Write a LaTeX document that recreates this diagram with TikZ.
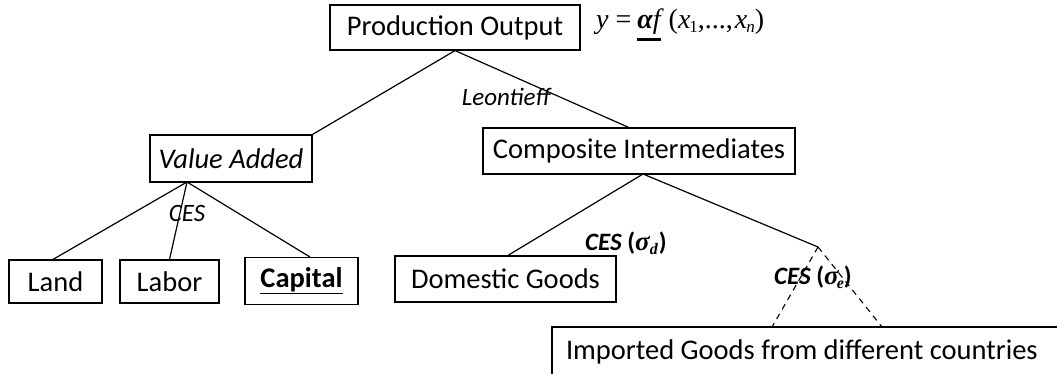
\documentclass[tikz,border=0pt]{standalone}
\usepackage{fontspec}
\setmainfont{Carlito}
\newfontfamily\tms{Liberation Serif}
\newcommand\thickul[1]{\mbox{\vtop{\hbox{#1}\kern3pt\hrule height 2.6pt}}}
\begin{document}
\begin{tikzpicture}[x=1pt,y=-1pt,
  box/.style={draw,line width=1.2pt,inner sep=0pt,font=\fontsize{28.5}{32}\selectfont},
  lbl/.style={inner sep=0pt,font=\fontsize{25}{29}\selectfont},
  link/.style={line width=1.2pt},
  dlink/.style={line width=1.1pt,dash pattern=on 6pt off 5pt}]
\clip (0,0) rectangle (1057,374);
\fill[white] (0,0) rectangle (1057,374);
% boxes
\node[box,minimum width=250pt,minimum height=45pt] (po) at (455,27.5) {Production Output};
\node[box,minimum width=162pt,minimum height=47pt] (va) at (231,158.5) {\itshape Value Added};
\node[box,minimum width=312pt,minimum height=46pt] (ci) at (639,151) {Composite Intermediates};
\node[box,minimum width=93pt,minimum height=43pt] (land) at (55.5,281.5) {Land};
\node[box,minimum width=99pt,minimum height=43pt] (labor) at (169.5,281.5) {Labor};
\node[box,minimum width=113pt,minimum height=47pt] (cap) at (301.5,281) {\underline{\bfseries Capital}};
\node[box,minimum width=221pt,minimum height=46pt] (dg) at (505.5,279) {Domestic Goods};
\node[box,minimum width=540pt,minimum height=50pt] (ig) at (822,352) {\makebox[512pt][l]{Imported Goods from different countries}};
% equation
\node[inner sep=0pt,anchor=base west,font=\fontsize{28}{32}\selectfont\tms] (eq) at (596,29)
  {\itshape y\kern7pt\upshape=\kern6pt\thickul{{\bfseries\itshape α}\itshape f}\kern8pt\upshape(\itshape x\kern-1pt\raisebox{-4pt}{\fontsize{17}{19}\selectfont\upshape 1}\upshape,...,\kern2pt\itshape x\kern-1pt\raisebox{-4pt}{\fontsize{17}{19}\selectfont n}\upshape)};
% junction coordinates
\coordinate (apx) at (po.south);
\coordinate (vab) at (187,182);
\coordinate (cib) at (643,174);
\coordinate (ej) at (818,247);
% connectors
\draw[link] (va.north east) -- (apx) -- (630,128);
\draw[link] (vab) -- (52,260);
\draw[link] (vab) -- (labor.north);
\draw[link] (vab) -- (310,257);
\draw[link] (cib) -- (507,256);
\draw[link] (cib) -- (ej);
\draw[dlink] (ej) -- (772,327);
\draw[dlink] (ej) -- (882,327);
% labels
\node[lbl,font=\fontsize{25}{29}\selectfont\itshape] (leo) at (506,97) {Leontieff};
\node[lbl,font=\fontsize{25}{29}\selectfont\itshape] (ces1) at (187,213) {CES};
\node[lbl,anchor=west] (ces2) at (585,243) {{\bfseries\itshape CES} {\bfseries(}{\tms\fontsize{27}{29}\selectfont\bfseries\itshape σ\raisebox{-4pt}{\fontsize{16}{18}\selectfont d}}\kern1pt{\bfseries)}};
\node[lbl,anchor=west] (ces3) at (774,277) {{\bfseries\itshape CES} {\bfseries(}{\tms\fontsize{27}{29}\selectfont\bfseries\itshape σ\kern-2pt\raisebox{-4pt}{\fontsize{16}{18}\selectfont e}}{\bfseries)}};
\end{tikzpicture}
\end{document}
